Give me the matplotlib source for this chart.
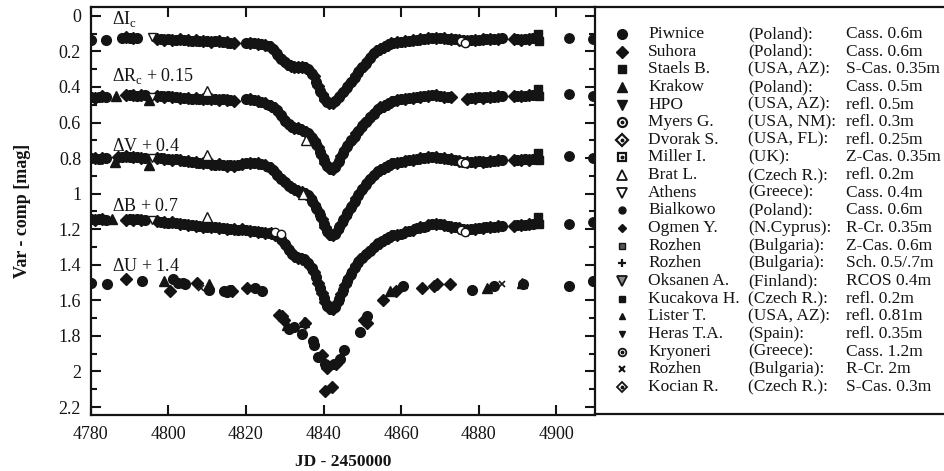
import numpy as np
import matplotlib
matplotlib.use('Agg')
import matplotlib.pyplot as plt
from matplotlib.ticker import MultipleLocator, FuncFormatter

plt.rcParams['font.family'] = ['Liberation Serif', 'DejaVu Serif']
plt.rcParams['mathtext.fontset'] = 'custom'
plt.rcParams['mathtext.rm'] = 'Liberation Serif'

nan = np.nan

# ---------------- data ----------------
jd_pre = [4780, 4781, 4782, 4783, 4784, 4785, 4786, 4787, 4788, 4789, 4790, 4791,
          4792, 4793, 4794, 4795, 4796, 4797, 4798, 4799, 4800, 4801, 4802, 4803,
          4804, 4805, 4806, 4807, 4808, 4809, 4810, 4811, 4812, 4813, 4814, 4815,
          4816, 4817, 4818, 4819, 4820, 4821, 4822, 4823, 4824, 4825, 4826]
jd_dip = [4826.5, 4827, 4827.5, 4828, 4828.5, 4829, 4829.5, 4830, 4830.5, 4831,
          4831.5, 4832, 4832.5, 4833, 4833.5, 4834, 4834.5, 4835, 4835.5, 4836,
          4836.5, 4837, 4837.5, 4838, 4838.5, 4839, 4839.5, 4840, 4840.5, 4841,
          4841.5, 4842, 4842.5, 4843, 4843.5, 4844, 4844.5, 4845, 4845.5, 4846,
          4846.5, 4847, 4847.5, 4848, 4848.5, 4849, 4849.5, 4850, 4850.5, 4851,
          4851.5, 4852, 4852.5, 4853, 4853.5, 4854, 4854.5, 4855, 4855.5, 4856,
          4856.5, 4857, 4857.5, 4858]
jd_post = [4859, 4860, 4861, 4862, 4863, 4864, 4865, 4866, 4867, 4868, 4869, 4870,
           4871, 4872, 4873, 4874, 4875, 4876, 4877, 4878, 4879, 4880, 4881, 4882,
           4883, 4884, 4885, 4886, 4887, 4888, 4889, 4890, 4891, 4892, 4893, 4894,
           4895, 4896]
jd_end = [4903.2, 4909.4]

I_pre = [0.135, nan, nan, nan, 0.135, nan, nan, nan, 0.125, 0.12, 0.125, 0.125,
         0.125, nan, nan, nan, nan, 0.13, 0.13, 0.135, 0.13, 0.135, 0.135, 0.13,
         0.135, 0.135, 0.14, 0.135, 0.14, 0.14, 0.14, 0.145, 0.14, 0.14, 0.145, 0.145,
         0.15, 0.15, nan, nan, 0.15, 0.155, 0.155, 0.16, 0.16, 0.165, 0.17]
I_dip = [0.175, 0.185, 0.2, 0.215, 0.23, 0.24, 0.25, 0.26, 0.27, 0.275,
         0.28, 0.28, 0.285, 0.285, 0.285, 0.29, 0.29, 0.29, 0.295, 0.3,
         0.31, 0.325, 0.34, 0.37, 0.395, 0.42, 0.44, 0.46, 0.475, 0.485,
         0.49, 0.49, 0.49, 0.48, 0.47, 0.455, 0.44, 0.43, 0.415, 0.4,
         0.385, 0.37, 0.36, 0.345, 0.33, 0.315, 0.3, 0.29, 0.28, 0.265,
         0.25, 0.235, 0.22, 0.21, 0.2, 0.19, 0.185, 0.18, 0.175, 0.17,
         0.165, 0.16, 0.155, 0.15]
I_post = [0.145, 0.145, 0.14, 0.14, 0.135, 0.135, 0.13, 0.13, 0.125, 0.125, 0.125, 0.125,
          0.125, 0.13, 0.13, 0.13, 0.135, 0.135, 0.14, 0.135, 0.135, 0.135, 0.13, 0.13,
          0.13, 0.13, 0.13, 0.125, nan, nan, 0.13, 0.13, 0.135, 0.13, 0.13, 0.125,
          nan, nan]
I_end = [0.125, 0.13]

R_pre = [0.455, 0.46, 0.455, 0.45, 0.455, nan, nan, nan, nan, 0.445, 0.445, 0.445,
         0.45, 0.445, 0.445, nan, nan, 0.45, 0.45, 0.455, 0.45, 0.455, 0.455, 0.46,
         0.46, 0.46, 0.465, 0.46, 0.465, 0.47, 0.465, 0.47, 0.47, 0.475, 0.47, 0.475,
         0.475, 0.48, nan, nan, 0.47, 0.47, 0.475, 0.48, 0.485, 0.49, 0.5]
R_dip = [0.505, 0.51, 0.52, 0.53, 0.545, 0.56, 0.575, 0.59, 0.6, 0.61,
         0.62, 0.625, 0.63, 0.63, 0.63, 0.635, 0.64, 0.645, 0.655, 0.66,
         0.67, 0.685, 0.7, 0.72, 0.74, 0.765, 0.79, 0.81, 0.83, 0.845,
         0.855, 0.86, 0.86, 0.85, 0.835, 0.815, 0.79, 0.77, 0.75, 0.73,
         0.715, 0.7, 0.69, 0.675, 0.66, 0.645, 0.635, 0.62, 0.605, 0.595,
         0.585, 0.57, 0.56, 0.55, 0.535, 0.525, 0.515, 0.51, 0.505, 0.5,
         0.495, 0.49, 0.485, 0.48]
R_post = [0.475, 0.47, 0.465, 0.46, 0.46, 0.455, 0.455, 0.45, 0.45, 0.445, 0.445, 0.45,
          0.455, 0.455, 0.455, nan, nan, nan, 0.465, 0.46, 0.46, 0.455, 0.46, 0.455,
          0.455, 0.455, 0.45, 0.45, nan, nan, 0.45, 0.45, 0.45, 0.45, 0.445, 0.445,
          nan, nan]
R_end = [0.44, 0.45]

V_pre = [0.80, 0.80, 0.805, 0.80, 0.80, nan, nan, 0.795, 0.795, 0.79, 0.795, 0.795,
         0.795, 0.80, 0.80, nan, nan, 0.80, 0.80, 0.805, 0.805, 0.81, 0.805, 0.81,
         0.815, 0.815, 0.82, 0.82, 0.825, 0.83, 0.83, 0.835, 0.84, 0.835, 0.84, 0.845,
         0.84, 0.845, 0.84, 0.835, 0.83, 0.83, 0.825, 0.83, 0.835, 0.84, 0.85]
V_dip = [0.855, 0.865, 0.88, 0.895, 0.905, 0.915, 0.925, 0.935, 0.945, 0.955,
         0.965, 0.97, 0.975, 0.98, 0.985, 0.99, 0.99, 0.995, 1.0, 1.01,
         1.02, 1.04, 1.06, 1.08, 1.1, 1.12, 1.145, 1.17, 1.19, 1.21,
         1.225, 1.235, 1.235, 1.225, 1.21, 1.19, 1.17, 1.15, 1.13, 1.11,
         1.09, 1.075, 1.06, 1.04, 1.025, 1.005, 0.99, 0.975, 0.96, 0.945,
         0.93, 0.92, 0.905, 0.895, 0.885, 0.875, 0.865, 0.86, 0.855, 0.85,
         0.845, 0.84, 0.835, 0.83]
V_post = [0.825, 0.82, 0.815, 0.81, 0.81, 0.805, 0.8, 0.8, 0.795, 0.795, 0.795, 0.8,
          0.8, 0.805, 0.805, 0.81, 0.815, 0.82, 0.82, 0.82, 0.82, 0.815, 0.82, 0.82,
          0.815, 0.815, 0.81, 0.81, nan, nan, 0.81, 0.81, 0.81, 0.805, 0.81, 0.805,
          nan, nan]
V_end = [0.79, 0.80]

B_pre = [1.145, 1.15, 1.145, 1.145, 1.15, nan, nan, nan, nan, 1.15, 1.145, 1.15,
         1.145, 1.15, 1.15, nan, nan, 1.155, 1.16, 1.16, 1.165, 1.16, 1.165, 1.17,
         1.17, 1.175, 1.175, 1.18, 1.18, 1.185, 1.185, 1.19, 1.19, 1.195, 1.195, 1.2,
         1.2, 1.2, 1.205, 1.2, 1.205, 1.21, 1.21, 1.215, 1.215, 1.22, 1.22]
B_dip = [1.22, 1.225, 1.23, 1.235, 1.245, 1.255, 1.27, 1.285, 1.3, 1.315,
         1.33, 1.34, 1.35, 1.355, 1.36, 1.36, 1.365, 1.37, 1.38, 1.39,
         1.405, 1.42, 1.44, 1.47, 1.5, 1.53, 1.56, 1.585, 1.61, 1.63,
         1.645, 1.65, 1.65, 1.635, 1.615, 1.59, 1.565, 1.54, 1.515, 1.49,
         1.47, 1.45, 1.43, 1.415, 1.4, 1.385, 1.37, 1.36, 1.35, 1.34,
         1.33, 1.32, 1.31, 1.3, 1.29, 1.28, 1.275, 1.265, 1.26, 1.255,
         1.25, 1.245, 1.24, 1.235]
B_post = [1.23, 1.225, 1.215, 1.21, 1.205, 1.195, 1.19, 1.185, 1.175, 1.17, 1.17, 1.17,
          1.175, 1.18, 1.185, 1.19, 1.195, 1.2, 1.205, 1.2, 1.2, 1.195, 1.195, 1.19,
          1.19, 1.185, 1.18, 1.18, nan, nan, 1.18, 1.175, 1.175, 1.175, 1.17, 1.17,
          nan, nan]
B_end = [1.17, 1.16]

# sprinkled stations (open / special markers), per band I, R, V, B
jd_staels = [4895.3, 4895.6]
staels_I = [0.10, 0.14]
staels_R = [0.41, 0.45]
staels_V = [0.77, 0.81]
staels_B = [1.13, 1.17]

jd_athens = [4795.8]
athens_mag = [0.12, 0.455, 0.80, 1.15]

krakow_jd = [4786.5, 4786.2, 4785.5, 4795.0, 4795.0]
krakow_mag = [0.45, 0.82, 1.14, 0.475, 0.84]

brat_jd = [4810.0, 4835.4, 4810.0, 4834.8, 4810.0]
brat_mag = [0.42, 0.70, 0.78, 1.0, 1.13]

kryo_jd = [4875.5, 4876.5, 4875.5, 4876.5, 4875.5, 4876.5, 4827.5, 4829.0]
kryo_mag = [0.14, 0.15, 0.82, 0.83, 1.205, 1.215, 1.215, 1.225]

# U band (offset +1.4), by station marker
U_circ_jd = [4780, 4784.2, 4793.2, 4801.3, 4802.5, 4803.9, 4804.3, 4810.4, 4814.3,
             4815.0, 4816.0, 4822.4, 4824.1, 4831.0, 4832.3, 4834.4, 4837.2, 4837.6,
             4838.7, 4840.4, 4842.6, 4844.2, 4845.2, 4849.3, 4851.2, 4860.4, 4878.3,
             4883.9, 4891.4, 4903.2, 4909.4]
U_circ_mag = [1.50, 1.51, 1.49, 1.48, 1.50, 1.50, 1.51, 1.54, 1.55,
              1.555, 1.54, 1.53, 1.55, 1.76, 1.75, 1.79, 1.83, 1.85,
              1.92, 1.96, 1.96, 1.93, 1.88, 1.78, 1.69, 1.52, 1.54,
              1.52, 1.51, 1.52, 1.49]
U_diam_jd = [4789.0, 4800.4, 4807.4, 4816.5, 4820.3, 4828.4, 4829.3, 4829.8, 4835.3,
             4839.7, 4841.0, 4843.3, 4840.5, 4842.3, 4850.4, 4851.2, 4855.4, 4858.6,
             4865.5, 4868.4, 4869.3, 4872.5]
U_diam_mag = [1.48, 1.55, 1.50, 1.545, 1.53, 1.68, 1.69, 1.71, 1.73,
              1.91, 1.98, 1.96, 2.11, 2.09, 1.71, 1.73, 1.60, 1.55,
              1.53, 1.52, 1.51, 1.51]
U_tri_jd = [4799.0, 4810.4, 4830.7, 4834.9, 4857.2, 4882.1, 4891.2]
U_tri_mag = [1.49, 1.51, 1.74, 1.72, 1.55, 1.53, 1.505]
U_x_jd = [4808.3, 4886.0]
U_x_mag = [1.53, 1.51]

band_labels = [r'$\Delta$I$_\mathregular{c}$', r'$\Delta$R$_\mathregular{c}$ + 0.15',
               r'$\Delta$V + 0.4', r'$\Delta$B + 0.7', r'$\Delta$U + 1.4']
band_label_y = [0.045, 0.365, 0.76, 1.1, 1.435]

stations = ['Piwnice', 'Suhora', 'Staels B.', 'Krakow', 'HPO', 'Myers G.', 'Dvorak S.',
            'Miller I.', 'Brat L.', 'Athens', 'Bialkowo', 'Ogmen Y.', 'Rozhen', 'Rozhen',
            'Oksanen A.', 'Kucakova H.', 'Lister T.', 'Heras T.A.', 'Kryoneri', 'Rozhen',
            'Kocian R.']
countries = ['(Poland):', '(Poland):', '(USA, AZ):', '(Poland):', '(USA, AZ):', '(USA, NM):',
             '(USA, FL):', '(UK):', '(Czech R.):', '(Greece):', '(Poland):', '(N.Cyprus):',
             '(Bulgaria):', '(Bulgaria):', '(Finland):', '(Czech R.):', '(USA, AZ):',
             '(Spain):', '(Greece):', '(Bulgaria):', '(Czech R.):']
telescopes = ['Cass. 0.6m', 'Cass. 0.6m', 'S-Cas. 0.35m', 'Cass. 0.5m', 'refl. 0.5m',
              'refl. 0.3m', 'refl. 0.25m', 'Z-Cas. 0.35m', 'refl. 0.2m', 'Cass. 0.4m',
              'Cass. 0.6m', 'R-Cr. 0.35m', 'Z-Cas. 0.6m', 'Sch. 0.5/.7m', 'RCOS 0.4m',
              'refl. 0.2m', 'refl. 0.81m', 'refl. 0.35m', 'Cass. 1.2m', 'R-Cr. 2m',
              'S-Cas. 0.3m']

# ---------------- figure ----------------
W, H = 945, 471
fig = plt.figure(figsize=(W / 100, H / 100), dpi=100)
ax = fig.add_axes([90.8 / W, (H - 415) / H, (595 - 90.8) / W, (415 - 7) / H])

K = '#141414'
bands = [(I_pre, I_dip, I_post, I_end, staels_I),
         (R_pre, R_dip, R_post, R_end, staels_R),
         (V_pre, V_dip, V_post, V_end, staels_V),
         (B_pre, B_dip, B_post, B_end, staels_B)]
jd_all = np.array(jd_pre + jd_dip + jd_post, dtype=float)
for pre, dip, post, end, st in bands:
    m = np.array(pre + dip + post, dtype=float)
    ax.plot(jd_all[0::2], m[0::2], 'o', ms=7.0, color=K, mec=K, zorder=2)
    ax.plot(jd_all[1::2], m[1::2], 'D', ms=6.0, color=K, mec=K, zorder=2)
    ax.plot(jd_end, end, 'o', ms=6.8, color=K, zorder=2)
    ax.plot(jd_staels, st, 's', ms=5.8, color=K, zorder=2)

ax.plot(jd_athens * 4, athens_mag, 'v', ms=6, mfc='white', mec=K, mew=1.0, zorder=3)
ax.plot(krakow_jd, krakow_mag, '^', ms=6.5, color=K, zorder=3)
ax.plot(brat_jd, brat_mag, '^', ms=6.5, mfc='white', mec=K, mew=1.0, zorder=3)
ax.plot(kryo_jd, kryo_mag, 'o', ms=6, mfc='white', mec=K, mew=1.0, zorder=3)

ax.plot(U_circ_jd, U_circ_mag, 'o', ms=7, color=K)
ax.plot(U_diam_jd, U_diam_mag, 'D', ms=6, color=K)
ax.plot(U_tri_jd, U_tri_mag, '^', ms=6.5, color=K)
ax.plot(U_x_jd, U_x_mag, 'x', ms=4, mew=1.2, color=K)

for lab, yv in zip(band_labels, band_label_y):
    ax.text(4785.5, yv, lab, fontsize=13, ha='left', va='baseline', color=K)

ax.set_xlim(4780, 4910)
ax.set_ylim(2.245, -0.05)
ax.xaxis.set_major_locator(MultipleLocator(20))
ax.yaxis.set_major_locator(MultipleLocator(0.2))
ax.yaxis.set_minor_locator(MultipleLocator(0.1))
ax.yaxis.set_major_formatter(FuncFormatter(lambda v, p: '%g' % round(v, 1)))
ax.tick_params(which='both', direction='in', top=True, right=True, width=1.5,
               labelsize=13, colors=K)
ax.tick_params(which='major', length=7)
ax.tick_params(which='minor', length=4)
ax.tick_params(axis='x', pad=8)
ax.tick_params(axis='y', pad=7)
for s in ax.spines.values():
    s.set_linewidth(1.6)
    s.set_color(K)
ax.set_xlabel('JD - 2450000', fontsize=12.5, fontweight='bold', labelpad=8, color=K)
ax.set_ylabel('Var - comp [mag]', fontsize=13, fontweight='bold', labelpad=20, color=K)

# ---------------- station legend panel ----------------
lax = fig.add_axes([595 / W, (H - 414) / H, (W - 595) / W, (414 - 7) / H])
lax.set_xlim(0, W - 595)
lax.set_ylim(414 - 7, 0)
lax.set_xticks([])
lax.set_yticks([])
lax.patch.set_alpha(0)
lax.spines['left'].set_visible(False)
lax.spines['right'].set_visible(False)
for s in ('top', 'bottom'):
    lax.spines[s].set_linewidth(1.6)
    lax.spines[s].set_color(K)

mk = [dict(marker='o', ms=7, color=K),
      dict(marker='D', ms=6, color=K),
      dict(marker='s', ms=6, color=K),
      dict(marker='^', ms=7, color=K),
      dict(marker='v', ms=7, color=K),
      dict(marker='o', ms=6.5, mfc='white', mec=K, mew=1.6),
      dict(marker='D', ms=6, mfc='white', mec=K, mew=1.6),
      dict(marker='s', ms=6, mfc='white', mec=K, mew=1.6),
      dict(marker='^', ms=6.5, mfc='white', mec=K, mew=1.3),
      dict(marker='v', ms=6.5, mfc='white', mec=K, mew=1.3),
      dict(marker='o', ms=5, color=K),
      dict(marker='D', ms=4.5, color=K),
      dict(marker='s', ms=5, mfc='#555555', mec=K, mew=1.0),
      dict(marker='+', ms=6, mew=1.6, color=K),
      dict(marker='v', ms=6.5, mfc='#888888', mec=K, mew=1.3),
      dict(marker='s', ms=4.5, color=K),
      dict(marker='^', ms=5, color=K),
      dict(marker='v', ms=5, color=K),
      dict(marker='o', ms=5.5, mfc='white', mec=K, mew=1.3),
      dict(marker='x', ms=5, mew=1.5, color=K),
      dict(marker='D', ms=5, mfc='white', mec=K, mew=1.3)]
dot_rows = [5, 6, 7, 18, 20]

y0, dy = 27.0, 17.64
for i in range(len(stations)):
    y = y0 + i * dy
    lax.plot([27], [y], linestyle='none', clip_on=False, **mk[i])
    if i in dot_rows:
        lax.plot([27], [y], marker='o', ms=1.8, color=K, linestyle='none')
    lax.text(53, y, stations[i], fontsize=12.5, va='center', ha='left', color=K)
    lax.text(153, y, countries[i], fontsize=12.5, va='center', ha='left', color=K)
    lax.text(251, y, telescopes[i], fontsize=12.5, va='center', ha='left', color=K)

fig.savefig('out.png', dpi=100)
